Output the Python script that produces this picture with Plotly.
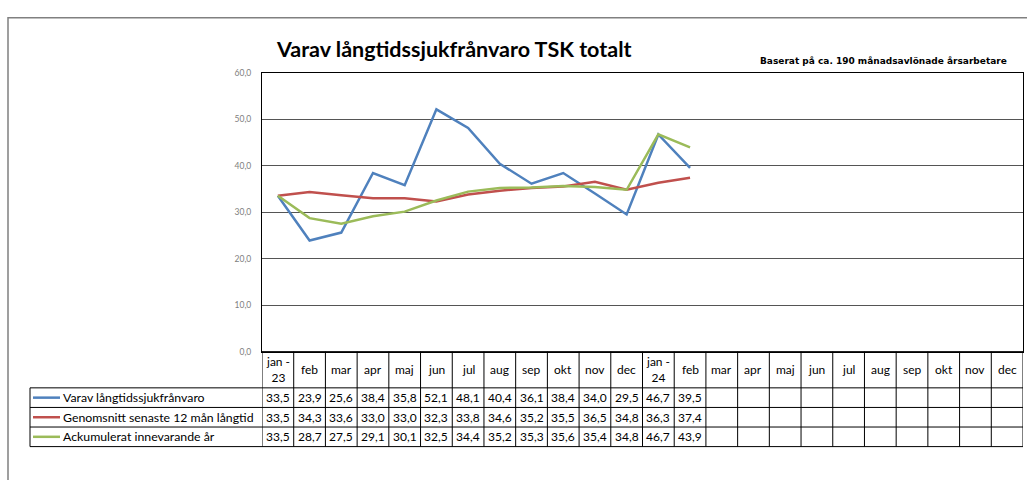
import plotly.graph_objects as go

# ---- data ----
months = ["jan -<br>23", "feb", "mar", "apr", "maj", "jun", "jul", "aug", "sep", "okt", "nov", "dec",
          "jan -<br>24", "feb", "mar", "apr", "maj", "jun", "jul", "aug", "sep", "okt", "nov", "dec"]
series_names = ["Varav långtidssjukfrånvaro",
                "Genomsnitt senaste 12 mån långtid",
                "Ackumulerat innevarande år"]
varav = [33.5, 23.9, 25.6, 38.4, 35.8, 52.1, 48.1, 40.4, 36.1, 38.4, 34.0, 29.5, 46.7, 39.5]
genomsnitt = [33.5, 34.3, 33.6, 33.0, 33.0, 32.3, 33.8, 34.6, 35.2, 35.5, 36.5, 34.8, 36.3, 37.4]
ackumulerat = [33.5, 28.7, 27.5, 29.1, 30.1, 32.5, 34.4, 35.2, 35.3, 35.6, 35.4, 34.8, 46.7, 43.9]
y_ticks = [0, 10, 20, 30, 40, 50, 60]

title = "Varav långtidssjukfrånvaro TSK totalt"
subtitle = "Baserat på ca. 190 månadsavlönade årsarbetare"

# ---- styling ----
W, H = 1027, 480
colors = ["#4F81BD", "#C0504D", "#9BBB59"]
FONT = "Lato"

def px(x):
    return x / W

def py(y):
    return 1 - y / H

plot_l, plot_r, plot_t, plot_b = 262, 1023, 69, 354
row_edges = [354, 391, 411, 431, 451]
legend_l = 30

fig = go.Figure()
all_series = [varav, genomsnitt, ackumulerat]
x_idx = list(range(len(months)))
for name, vals, c in zip(series_names, all_series, colors):
    fig.add_trace(go.Scatter(x=x_idx[:len(vals)], y=vals, mode="lines", name=name,
                             line=dict(color=c, width=2.5), showlegend=False,
                             hoverinfo="skip"))

shapes = []
annotations = []

# outer frame
shapes.append(dict(type="rect", xref="paper", yref="paper",
                   x0=px(8), x1=px(1045), y0=py(500), y1=py(13),
                   line=dict(color="#808080", width=1.5), layer="below"))

# table: horizontal lines
for i, yy in enumerate(row_edges):
    x0 = plot_l if i == 0 else legend_l
    shapes.append(dict(type="line", xref="paper", yref="paper",
                       x0=px(x0), x1=px(plot_r), y0=py(yy), y1=py(yy),
                       line=dict(color="black", width=1)))
# vertical lines at category boundaries (through the x axis)
for i in range(len(months) + 1):
    shapes.append(dict(type="line", xref="x", yref="paper",
                       x0=i - 0.5, x1=i - 0.5, y0=py(row_edges[0]), y1=py(row_edges[-1]),
                       line=dict(color="black", width=1)))
# legend column left edge
shapes.append(dict(type="line", xref="paper", yref="paper",
                   x0=px(legend_l), x1=px(legend_l), y0=py(row_edges[1]), y1=py(row_edges[-1]),
                   line=dict(color="black", width=1)))

# header labels
for i, m in enumerate(months):
    annotations.append(dict(xref="x", yref="paper", x=i, y=py((row_edges[0] + row_edges[1]) / 2),
                            text=m, showarrow=False, xanchor="center", yanchor="middle",
                            font=dict(family=FONT, size=12, color="black")))

# rows
for r, (name, vals, c) in enumerate(zip(series_names, all_series, colors)):
    yc = (row_edges[r + 1] + row_edges[r + 2]) / 2
    shapes.append(dict(type="line", xref="paper", yref="paper",
                       x0=px(33), x1=px(60), y0=py(yc), y1=py(yc),
                       line=dict(color=c, width=2.5)))
    annotations.append(dict(xref="paper", yref="paper", x=px(61), y=py(yc),
                            text=name, showarrow=False, xanchor="left", yanchor="middle",
                            font=dict(family=FONT, size=12.3, color="black")))
    for i, v in enumerate(vals):
        annotations.append(dict(xref="x", yref="paper", x=i, y=py(yc),
                                text=f"{v:.1f}".replace(".", ","), showarrow=False,
                                xanchor="center", yanchor="middle",
                                font=dict(family=FONT, size=12, color="black")))

# titles
annotations.append(dict(xref="paper", yref="paper", x=px(453), y=py(45), text=f"<b>{title}</b>",
                        showarrow=False, xanchor="center", yanchor="middle",
                        font=dict(family=FONT, size=21.5, color="black")))
annotations.append(dict(xref="paper", yref="paper", x=px(1009), y=py(57), text=f"<b>{subtitle}</b>",
                        showarrow=False, xanchor="right", yanchor="middle",
                        font=dict(family="DejaVu Sans", size=9, color="black")))

fig.update_layout(
    width=W, height=H,
    margin=dict(l=0, r=0, t=0, b=0),
    paper_bgcolor="white", plot_bgcolor="white",
    separators=", ",
    shapes=shapes, annotations=annotations,
    xaxis=dict(domain=[px(plot_l), px(plot_r)], range=[-0.5, len(months) - 0.5],
               showticklabels=False, showgrid=False, zeroline=False,
               showline=True, linecolor="black", linewidth=1, mirror=True, ticks=""),
    yaxis=dict(domain=[py(plot_b), py(plot_t)], range=[0, 60], tickvals=y_ticks,
               tickformat=".1f", showgrid=True, gridcolor="#555555", gridwidth=1,
               zeroline=False, showline=True, linecolor="black", linewidth=1, mirror=True,
               ticks="", ticklabelstandoff=8,
               tickfont=dict(family=FONT, size=8.5, color="#808080")),
)

fig.write_html("out.html", config={"displayModeBar": False},
               post_script="document.body.style.margin='0';document.body.style.overflow='hidden';")
